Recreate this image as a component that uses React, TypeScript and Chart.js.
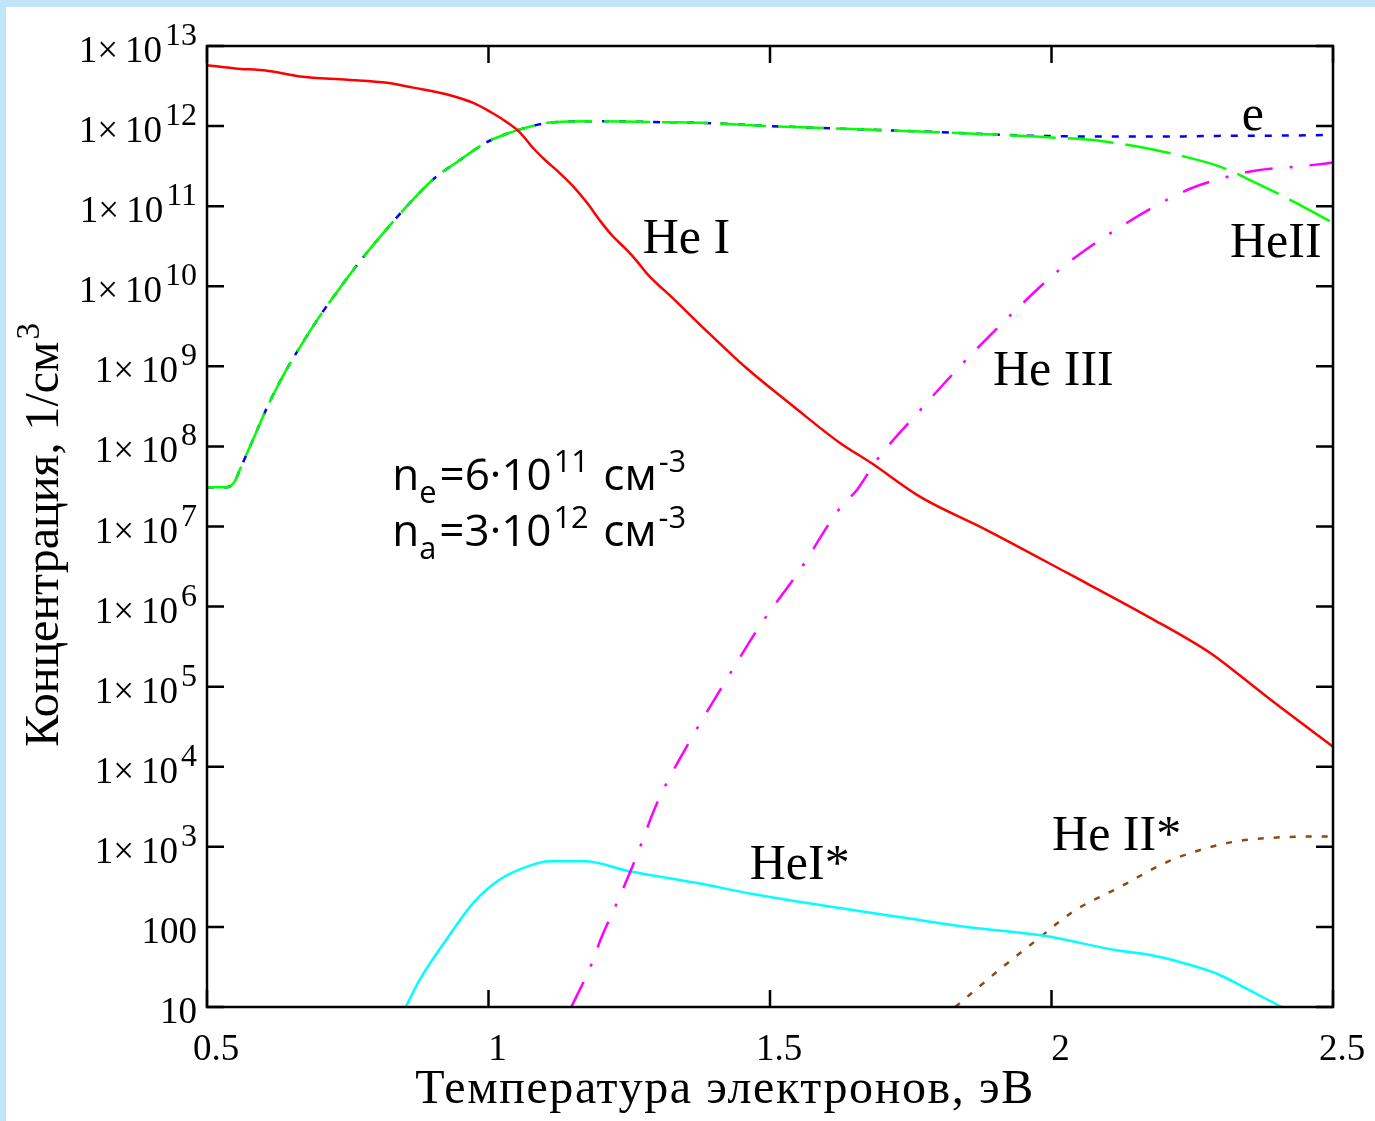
import React, { useEffect, useRef } from "react";
import { Chart, registerables } from "chart.js";

Chart.register(...registerables);

// ---------- data ----------
const heIX = [0.5, 0.55, 0.607, 0.665, 0.75, 0.82, 0.866, 0.93, 0.973, 1.003, 1.03, 1.056, 1.08, 1.1, 1.127, 1.15, 1.175, 1.198, 1.22, 1.246, 1.265, 1.281, 1.33, 1.376, 1.456, 1.543, 1.623, 1.68, 1.767, 1.884, 2.028, 2.173, 2.282, 2.333, 2.39, 2.5];
const heIY = [5.75e12, 5.25e12, 4.9e12, 4.17e12, 3.8e12, 3.47e12, 3.02e12, 2.45e12, 1.95e12, 1.51e12, 1.15e12, 8.3e11, 5.25e11, 3.8e11, 2.57e11, 1.78e11, 1.1e11, 6.6e10, 4.27e10, 2.82e10, 2.0e10, 1.45e10, 6.8e9, 3.3e9, 9.8e8, 3.1e8, 1.12e8, 6.2e7, 2.34e7, 9.1e6, 2.63e6, 7.4e5, 2.63e5, 1.41e5, 6.8e4, 1.78e4];

const heIIX = [0.5, 0.535, 0.548, 0.559, 0.572, 0.59, 0.607, 0.635, 0.665, 0.7, 0.736, 0.775, 0.813, 0.855, 0.901, 0.95, 0.997, 1.03, 1.056, 1.09, 1.115, 1.2, 1.305, 1.376, 1.5, 1.7, 1.82, 1.908, 2.0, 2.063, 2.13, 2.18, 2.24, 2.3, 2.36, 2.424, 2.5];
const heIIY = [3.1e7, 3.1e7, 3.55e7, 5.25e7, 8.5e7, 1.66e8, 3.1e8, 7.6e8, 1.74e9, 4.2e9, 9.5e9, 2.19e10, 4.6e10, 1.0e11, 2.14e11, 3.8e11, 6.3e11, 7.9e11, 9.1e11, 1.05e12, 1.12e12, 1.15e12, 1.12e12, 1.1e12, 1.0e12, 8.9e11, 8.3e11, 7.8e11, 7.2e11, 6.8e11, 5.9e11, 5.1e11, 4.1e11, 3.1e11, 2.0e11, 1.2e11, 6.2e10];

const eX = [0.5, 0.535, 0.548, 0.559, 0.572, 0.59, 0.607, 0.635, 0.665, 0.7, 0.736, 0.775, 0.813, 0.855, 0.901, 0.95, 0.997, 1.03, 1.056, 1.09, 1.115, 1.2, 1.305, 1.376, 1.5, 1.7, 1.82, 1.908, 1.96, 2.1, 2.2, 2.3, 2.4, 2.5];
const eY = [3.1e7, 3.1e7, 3.55e7, 5.25e7, 8.5e7, 1.66e8, 3.1e8, 7.6e8, 1.74e9, 4.2e9, 9.5e9, 2.19e10, 4.6e10, 1.0e11, 2.14e11, 3.8e11, 6.3e11, 7.9e11, 9.1e11, 1.05e12, 1.12e12, 1.15e12, 1.12e12, 1.1e12, 1.0e12, 8.9e11, 8.3e11, 7.8e11, 7.6e11, 7.4e11, 7.4e11, 7.55e11, 7.6e11, 7.75e11];

const heIIIX = [1.147, 1.182, 1.2, 1.23, 1.26, 1.3, 1.361, 1.422, 1.482, 1.555, 1.621, 1.655, 1.69, 1.766, 1.843, 1.932, 2.02, 2.122, 2.24, 2.294, 2.358, 2.453, 2.5];
const heIIIY = [10, 33, 72, 214, 676, 3.6e3, 2.3e4, 1.2e5, 5.75e5, 3.0e6, 1.58e7, 2.9e7, 6.8e7, 2.8e8, 1.1e9, 4.7e9, 1.74e10, 5.5e10, 1.58e11, 2.14e11, 2.75e11, 3.2e11, 3.5e11];

const heIStarX = [0.853, 0.878, 0.925, 0.973, 1.02, 1.076, 1.107, 1.171, 1.248, 1.369, 1.47, 1.6, 1.742, 1.85, 1.985, 2.116, 2.18, 2.234, 2.294, 2.353, 2.415];
const heIStarY = [10, 22, 69, 200, 390, 590, 660, 660, 500, 355, 257, 182, 129, 100, 78, 51, 44, 35.5, 26, 16, 9.5];

const heIIStarX = [1.829, 1.921, 1.974, 2.038, 2.122, 2.205, 2.264, 2.322, 2.411, 2.5];
const heIIStarY = [10, 35, 69, 155, 316, 646, 912, 1150, 1320, 1350];

// ---------- axes ----------
const xMin = 0.5;
const xMax = 2.5;
const yMin = 10;
const yMax = 1e13;
const xTickValues = [0.5, 1, 1.5, 2, 2.5];
const xTickLabels = ["0.5", "1", "1.5", "2", "2.5"];
const yTickValues = [1e1, 1e2, 1e3, 1e4, 1e5, 1e6, 1e7, 1e8, 1e9, 1e10, 1e11, 1e12, 1e13];
const yTickMain = ["10", "100", "1×10", "1×10", "1×10", "1×10", "1×10", "1×10", "1×10", "1×10", "1×10", "1×10", "1×10"];
const yTickSup = ["", "", "3", "4", "5", "6", "7", "8", "9", "10", "11", "12", "13"];
const xTitle = "Температура электронов, эВ";
const yTitleMain = "Концентрация, 1/см";
const yTitleSup = "3";

// curve labels, anchored in data coordinates (left x, baseline y)
const curveLabelText = ["He I", "e", "HeII", "He III", "HeI*", "He II*"];
const curveLabelX = [1.274, 2.338, 2.317, 1.896, 1.464, 2.001];
const curveLabelY = [2.6e10, 8.93e11, 2.32e10, 5.85e8, 396, 912];

// note text: ne = 6·10^11 cm^-3, na = 3·10^12 cm^-3
const noteX = 0.829;
const noteY = [2.86e7, 5.7e6];
const noteLines = [
  [{ t: "n" }, { t: "e", sub: true }, { t: "=6·10" }, { t: "11", sup: true }, { t: " см" }, { t: "-3", sup: true }],
  [{ t: "n" }, { t: "a", sub: true }, { t: "=3·10" }, { t: "12", sup: true }, { t: " см" }, { t: "-3", sup: true }],
];

const SERIF = '"Liberation Serif", "Times New Roman", serif';
const SANS = '"Open Sans", "Noto Sans", sans-serif';

function pts(xs: number[], ys: number[]) {
  return xs.map((x, i) => ({ x, y: ys[i] }));
}

type Seg = { t: string; sub?: boolean; sup?: boolean };

function drawRich(ctx: CanvasRenderingContext2D, x: number, y: number, segs: Seg[], size: number) {
  let cx = x;
  segs.forEach((s, i) => {
    const small = s.sub || s.sup;
    const fs = small ? size * 0.7 : size;
    ctx.font = `${fs}px ${SANS}`;
    const dy = s.sub ? size * 0.3 : s.sup ? -size * 0.4 : 0;
    if (s.sup) cx += 2;
    ctx.fillText(s.t, cx, y + dy);
    cx += ctx.measureText(s.t).width;
    if (s.sub) cx += 3;
    if (s.sup && i < segs.length - 1) cx += 3;
  });
}

const framePlugin = {
  id: "mathcadFrame",
  afterDraw(chart: any) {
    const { ctx, chartArea: a, scales } = chart;
    const xs = scales.x;
    const ys = scales.y;
    ctx.save();
    // frame
    ctx.strokeStyle = "#000";
    ctx.lineWidth = 2.5;
    ctx.strokeRect(a.left, a.top, a.right - a.left, a.bottom - a.top);
    const T = 17;
    ctx.beginPath();
    for (const v of yTickValues) {
      const py = ys.getPixelForValue(v);
      ctx.moveTo(a.left, py);
      ctx.lineTo(a.left + T, py);
      ctx.moveTo(a.right, py);
      ctx.lineTo(a.right - T, py);
    }
    for (const v of xTickValues) {
      const px = xs.getPixelForValue(v);
      ctx.moveTo(px, a.bottom);
      ctx.lineTo(px, a.bottom - T);
      ctx.moveTo(px, a.top);
      ctx.lineTo(px, a.top + T);
    }
    ctx.stroke();

    ctx.fillStyle = "#000";
    ctx.textBaseline = "alphabetic";

    // y tick labels
    const right = a.left - 10;
    yTickValues.forEach((v, i) => {
      const py = ys.getPixelForValue(v);
      ctx.textAlign = "right";
      let r = right;
      if (yTickSup[i]) {
        ctx.font = `32px ${SERIF}`;
        ctx.fillText(yTickSup[i], r, py - 1);
        r -= ctx.measureText(yTickSup[i]).width + 3;
      }
      ctx.font = `37px ${SERIF}`;
      const m = yTickMain[i];
      if (m.startsWith("1×")) {
        const rest = m.slice(2);
        ctx.fillText(rest, r, py + 16);
        r -= ctx.measureText(rest).width + 7;
        ctx.fillText("1×", r, py + 16);
      } else {
        ctx.fillText(m, r, py + 16);
      }
    });

    // x tick labels
    ctx.textAlign = "center";
    ctx.font = `37px ${SERIF}`;
    xTickValues.forEach((v, i) => {
      const px = xs.getPixelForValue(v);
      ctx.fillText(xTickLabels[i], px + 9, a.bottom + 53);
    });

    // x title
    ctx.font = `48px ${SERIF}`;
    (ctx as any).letterSpacing = "1.6px";
    ctx.textAlign = "center";
    ctx.fillText(xTitle, a.left + 518, a.bottom + 96);
    (ctx as any).letterSpacing = "0px";

    // y title (rotated)
    ctx.save();
    ctx.translate(58, a.top + 489);
    ctx.rotate(-Math.PI / 2);
    ctx.font = `48px ${SERIF}`;
    const wMain = ctx.measureText(yTitleMain).width;
    ctx.font = `33px ${SERIF}`;
    const wSup = ctx.measureText(yTitleSup).width;
    const start = -(wMain + wSup + 2) / 2;
    ctx.textAlign = "left";
    ctx.font = `48px ${SERIF}`;
    ctx.fillText(yTitleMain, start, 0);
    ctx.font = `33px ${SERIF}`;
    ctx.fillText(yTitleSup, start + wMain + 2, -19);
    ctx.restore();

    // curve labels
    ctx.textAlign = "left";
    ctx.font = `50px ${SERIF}`;
    curveLabelText.forEach((t, i) => {
      ctx.fillText(t, xs.getPixelForValue(curveLabelX[i]), ys.getPixelForValue(curveLabelY[i]));
    });

    // note
    noteLines.forEach((segs, i) => {
      drawRich(ctx, xs.getPixelForValue(noteX), ys.getPixelForValue(noteY[i]), segs, 44);
    });

    ctx.restore();
  },
};

export default function App() {
  const ref = useRef<HTMLCanvasElement | null>(null);

  useEffect(() => {
    document.body.style.margin = "0";
    const canvas = ref.current;
    if (!canvas) return;
    const common = { pointRadius: 0, borderWidth: 2.5, cubicInterpolationMode: "monotone", fill: false };
    const chart = new Chart(canvas, {
      type: "line",
      data: {
        datasets: [
          { label: "He I", data: pts(heIX, heIY), borderColor: "#ff0000", ...common },
          { label: "He II", data: pts(heIIX, heIIY), borderColor: "#00ff00", borderDash: [46, 12], ...common },
          { label: "e", data: pts(eX, eY), borderColor: "#0000ff", borderDash: [7, 10], ...common },
          { label: "He III", data: pts(heIIIX, heIIIY), borderColor: "#ff00ff", borderDash: [28, 17, 3, 17], ...common },
          { label: "HeI*", data: pts(heIStarX, heIStarY), borderColor: "#00ffff", ...common },
          { label: "He II*", data: pts(heIIStarX, heIIStarY), borderColor: "#8b4a14", borderDash: [6, 10], ...common },
        ],
      },
      options: {
        animation: false,
        responsive: false,
        maintainAspectRatio: false,
        layout: { padding: { left: 207, top: 46, right: 42, bottom: 114 } },
        plugins: { legend: { display: false }, tooltip: { enabled: false } },
        scales: {
          x: { type: "linear", min: xMin, max: xMax, display: false },
          y: { type: "logarithmic", min: yMin, max: yMax, display: false },
        },
      },
      plugins: [framePlugin],
    } as any);
    return () => chart.destroy();
  }, []);

  return (
    <div style={{ position: "relative", width: 1375, height: 1121, background: "#fff", overflow: "hidden" }}>
      <div style={{ position: "absolute", left: 0, top: 0, width: 1375, height: 7, background: "#bee6f8" }} />
      <div style={{ position: "absolute", left: 0, top: 0, width: 6, height: 1121, background: "#bee6f8" }} />
      <canvas ref={ref} width={1375} height={1121} style={{ position: "absolute", left: 0, top: 0, width: 1375, height: 1121 }} />
    </div>
  );
}
